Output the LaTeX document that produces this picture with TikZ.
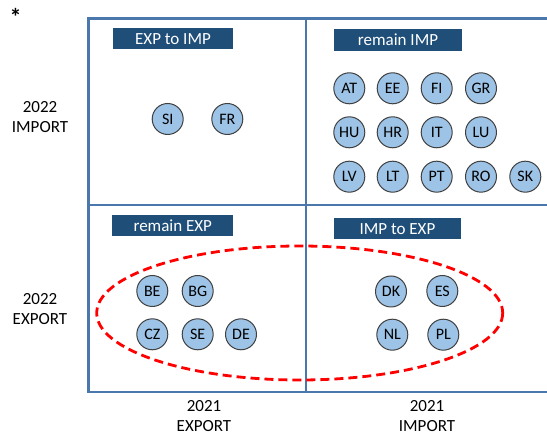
\documentclass[tikz,border=0pt]{standalone}
\usepackage{fontspec}
\setmainfont{Carlito}
\definecolor{framec}{HTML}{4A78AC}
\definecolor{boxc}{HTML}{1F4E79}
\definecolor{circc}{HTML}{9DC3E6}
\definecolor{circd}{HTML}{404040}
\begin{document}
\begin{tikzpicture}[x=1pt,y=-1pt,
  frame/.style={draw=framec,line width=2.6pt},
  tag/.style={fill=boxc,text=white,inner sep=0pt,font=\fontsize{17}{20}\selectfont},
  ctry/.style={circle,draw=circd,fill=circc,line width=1pt,minimum size=31pt,inner sep=0pt,font=\fontsize{16}{18}\selectfont},
  axl/.style={align=center,font=\fontsize{17}{20}\selectfont},
  ring/.style={draw=red,dashed,dash pattern=on 9pt off 5pt,line width=2.8pt}]
\useasboundingbox (0,0) rectangle (547,435);
% frame
\draw[frame] (548,18.5) -- (88.5,18.5) -- (88.5,392) -- (548,392);
\draw[frame] (88.5,205) -- (548,205);
\draw[frame] (306,18.5) -- (306,392);
% star
\node[font=\fontsize{24}{26}\selectfont\bfseries,inner sep=0pt] (star) at (15.5,17) {*};
% tags
\node[tag,minimum width=120.5pt,minimum height=21pt] (t1) at (173,38.8) {EXP to IMP};
\node[tag,minimum width=127.5pt,minimum height=21.5pt] (t2) at (398,40) {remain IMP};
\node[tag,minimum width=121pt,minimum height=21pt] (t3) at (172.8,225.5) {remain EXP};
\node[tag,minimum width=127pt,minimum height=21pt] (t4) at (397.5,228.7) {IMP to EXP};
% ellipse
\draw[ring] (299.7,313) ellipse [x radius=203, y radius=67];
% countries top left
\node[ctry] (SI) at (167.7,119) {SI};
\node[ctry] (FR) at (227.3,119) {FR};
% top right
\node[ctry] (AT) at (349.3,88.3) {AT};
\node[ctry] (EE) at (392.7,88.3) {EE};
\node[ctry] (FI) at (436.7,88.3) {FI};
\node[ctry] (GR) at (481,88.3) {GR};
\node[ctry] (HU) at (349.3,132.3) {HU};
\node[ctry] (HR) at (392.7,132.3) {HR};
\node[ctry] (IT) at (436.7,132.3) {IT};
\node[ctry] (LU) at (481,132.3) {LU};
\node[ctry] (LV) at (349.3,176.7) {LV};
\node[ctry] (LT) at (392.7,176.7) {LT};
\node[ctry] (PT) at (436.7,176.7) {PT};
\node[ctry] (RO) at (481,176.7) {RO};
\node[ctry] (SK) at (525.3,176.7) {SK};
% bottom left
\node[ctry] (BE) at (152.3,291) {BE};
\node[ctry] (BG) at (197.7,291) {BG};
\node[ctry] (CZ) at (152.3,334.3) {CZ};
\node[ctry] (SE) at (197.7,334.3) {SE};
\node[ctry] (DE) at (241,334.3) {DE};
% bottom right
\node[ctry] (DK) at (391,291.5) {DK};
\node[ctry] (ES) at (442.3,291) {ES};
\node[ctry] (NL) at (392.3,334.7) {NL};
\node[ctry] (PL) at (443.3,334.7) {PL};
% axis labels
\node[axl] (r1) at (40,117) {2022\\IMPORT};
\node[axl] (r2) at (40,309) {2022\\EXPORT};
\node[axl] (c1) at (204,416.5) {2021\\EXPORT};
\node[axl] (c2) at (427,416.5) {2021\\IMPORT};
\end{tikzpicture}
\end{document}
